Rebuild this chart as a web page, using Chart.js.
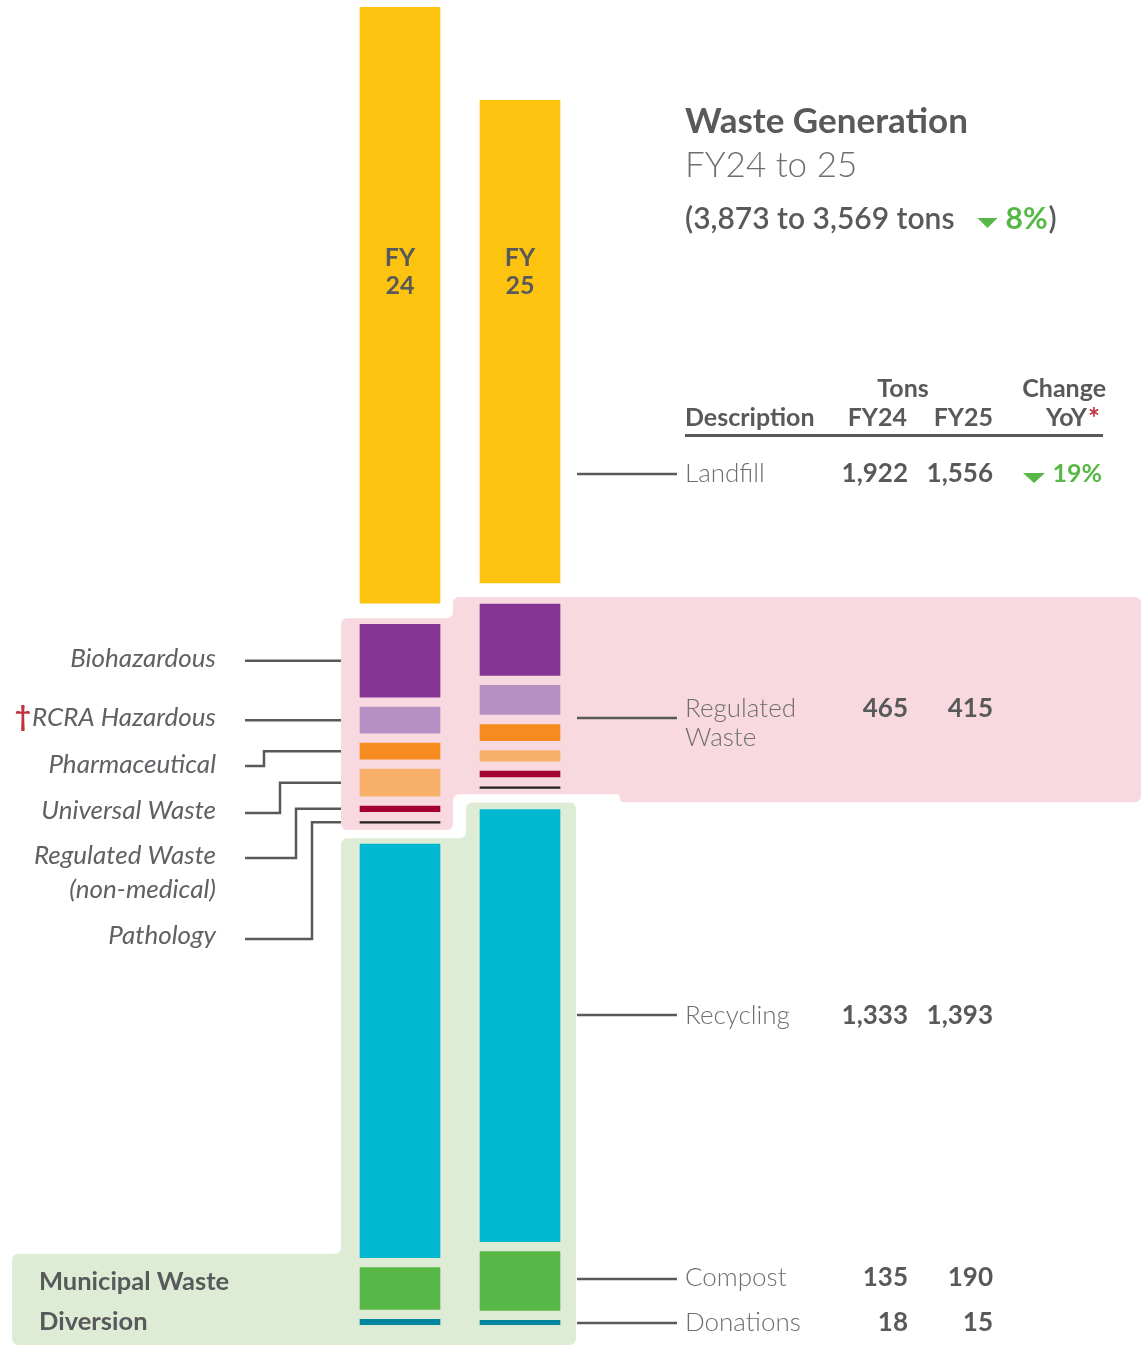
<!DOCTYPE html>
<html><head><meta charset="utf-8">
<script src="https://cdn.jsdelivr.net/npm/chart.js@4"></script>
<style>html,body{margin:0;padding:0;background:#fff;}#wrap{width:1146px;height:1346px;position:relative;}</style>
</head><body><div id="wrap"><canvas id="c" width="1146" height="1346"></canvas></div>
<script>
// ---------- data ----------
const years = ['FY24', 'FY25'];
const landfill = [1922, 1556];
const biohazardous = [235, 230];
const rcraHazardous = [84, 94];
const pharmaceutical = [52, 52];
const universalWaste = [87, 34];
const regulatedNonMedical = [18, 19];
const pathology = [5, 5];
const recycling = [1333, 1393];
const compost = [135, 190];
const donations = [18, 15];
const regulatedTotal = [465, 415];
const totalTons = [3873, 3569];
const landfillChange = '19%';
const totalChange = '8%';

// visual spacing between stacked segments (in value units)
const GAP = 32, GROUP_GAP = 68;

const segments = [
  { key: 'Donations', data: donations, color: '#00869C', gap: GAP },
  { key: 'Compost', data: compost, color: '#57B847', gap: GAP },
  { key: 'Recycling', data: recycling, color: '#00B9D1', gap: GROUP_GAP },
  { key: 'Pathology', data: pathology, color: '#231F20', gap: GAP },
  { key: 'Regulated Waste (non-medical)', data: regulatedNonMedical, color: '#A50034', gap: GAP },
  { key: 'Universal Waste', data: universalWaste, color: '#F9B06B', gap: GAP },
  { key: 'Pharmaceutical', data: pharmaceutical, color: '#F68B1F', gap: GAP },
  { key: 'RCRA Hazardous', data: rcraHazardous, color: '#B790C3', gap: GAP },
  { key: 'Biohazardous', data: biohazardous, color: '#843593', gap: GROUP_GAP },
  { key: 'Landfill', data: landfill, color: '#FEC30F', gap: 0 }
];

const ranges = segments.map(() => []);
let yMax = 0;
years.forEach((y, i) => {
  let base = 0;
  segments.forEach((s, k) => {
    ranges[k][i] = [base, base + s.data[i]];
    base += s.data[i];
    if (k < segments.length - 1) base += s.gap;
  });
  yMax = Math.max(yMax, base);
});

const datasets = segments.map((s, k) => ({
  label: s.key, data: ranges[k], backgroundColor: s.color,
  borderWidth: 0, barThickness: 80, grouped: false
}));

const GRAY = '#58595B', LIGHT = '#6D6E71', GREEN = '#57B847', RED = '#C4323F';
const PINK = '#F9D9E0', MINT = '#DEECD5';

function fmt(v) { return v.toLocaleString('en-US'); }

function roundedPoly(ctx, pts, r, fill) {
  const n = pts.length;
  ctx.beginPath();
  const a = pts[n - 1], b = pts[0];
  ctx.moveTo((a[0] + b[0]) / 2, (a[1] + b[1]) / 2);
  for (let i = 0; i < n; i++) {
    const p = pts[i], q = pts[(i + 1) % n], o = pts[(i - 1 + n) % n];
    const l1 = Math.hypot(p[0] - o[0], p[1] - o[1]);
    const l2 = Math.hypot(q[0] - p[0], q[1] - p[1]);
    const rr = Math.min(r, l1 / 2, l2 / 2);
    ctx.arcTo(p[0], p[1], q[0], q[1], rr);
  }
  ctx.closePath();
  ctx.fillStyle = fill;
  ctx.fill();
}

function seg(chart, key, i) {
  const k = segments.findIndex(s => s.key === key);
  const e = chart.getDatasetMeta(k).data[i];
  const top = Math.min(e.y, e.base), bot = Math.max(e.y, e.base);
  return { top, bot, mid: (top + bot) / 2, left: e.x - e.width / 2, right: e.x + e.width / 2, x: e.x };
}

const decor = {
  id: 'decor',
  beforeDatasetsDraw(chart) {
    const ctx = chart.ctx;
    const W = chart.width, H = chart.height;
    const bio24 = seg(chart, 'Biohazardous', 0), bio25 = seg(chart, 'Biohazardous', 1);
    const pat24 = seg(chart, 'Pathology', 0), pat25 = seg(chart, 'Pathology', 1);
    const rec24 = seg(chart, 'Recycling', 0), rec25 = seg(chart, 'Recycling', 1);
    const L = bio24.left - 19, M = bio25.left - 27, R = W - 5, stepX = bio25.right + 60;
    ctx.save();
    roundedPoly(ctx, [
      [L, bio24.top - 6], [M, bio24.top - 6], [M, bio25.top - 7], [R, bio25.top - 7],
      [R, pat25.bot + 14], [stepX, pat25.bot + 14], [stepX, pat25.bot + 6], [M, pat25.bot + 6],
      [M, pat24.bot + 7], [L, pat24.bot + 7]
    ], 6, PINK);
    const GM = rec25.left - 14, GR = rec25.right + 16;
    roundedPoly(ctx, [
      [L, rec24.top - 6], [GM, rec24.top - 6], [GM, rec25.top - 7], [GR, rec25.top - 7],
      [GR, H - 1], [12, H - 1], [12, rec24.bot - 4], [L, rec24.bot - 4]
    ], 6, MINT);
    ctx.restore();
  },
  afterDatasetsDraw(chart) {
    const ctx = chart.ctx;
    const bio24 = seg(chart, 'Biohazardous', 0);
    const panelLeft = bio24.left - 19;
    ctx.save();
    ctx.textBaseline = 'alphabetic';

    // labels inside landfill bars
    ctx.fillStyle = GRAY; ctx.font = 'bold 25px Lato'; ctx.textAlign = 'center';
    years.forEach((y, i) => {
      const s = seg(chart, 'Landfill', i);
      ctx.fillText(y.slice(0, 2), s.x, 266);
      ctx.fillText(y.slice(2), s.x, 294);
    });

    // left labels and leader lines
    const leftLabels = [
      { key: 'Biohazardous', text: ['Biohazardous'], base: 667 },
      { key: 'RCRA Hazardous', text: ['RCRA Hazardous'], base: 726, dagger: true },
      { key: 'Pharmaceutical', text: ['Pharmaceutical'], base: 773, lineY: 766, elbowX: 264 },
      { key: 'Universal Waste', text: ['Universal Waste'], base: 819, lineY: 813, elbowX: 280 },
      { key: 'Regulated Waste (non-medical)', text: ['Regulated Waste', '(non-medical)'], base: 864, lineY: 858, elbowX: 296 },
      { key: 'Pathology', text: ['Pathology'], base: 944, lineY: 939, elbowX: 312 }
    ];
    ctx.strokeStyle = GRAY; ctx.lineWidth = 2.5; ctx.lineJoin = 'miter'; ctx.lineCap = 'butt';
    leftLabels.forEach(lb => {
      const s = seg(chart, lb.key, 0);
      const sy = s.mid;
      ctx.beginPath();
      if (lb.lineY === undefined) {
        ctx.moveTo(245, sy); ctx.lineTo(panelLeft, sy);
      } else {
        ctx.moveTo(245, lb.lineY); ctx.lineTo(lb.elbowX, lb.lineY);
        ctx.lineTo(lb.elbowX, sy); ctx.lineTo(panelLeft, sy);
      }
      ctx.stroke();
      ctx.font = 'italic 26px Lato'; ctx.fillStyle = '#606165'; ctx.textAlign = 'right';
      lb.text.forEach((t, j) => ctx.fillText(t, 216, lb.base + j * 34));
      if (lb.dagger) {
        const w = ctx.measureText(lb.text[0]).width;
        ctx.font = 'bold 28px Lato'; ctx.fillStyle = RED;
        ctx.fillText('\u2020', 216 - w - 1, lb.base);
      }
    });

    // Municipal waste diversion label
    ctx.font = 'bold 25.5px Lato'; ctx.fillStyle = GRAY; ctx.textAlign = 'left';
    ctx.fillText('Municipal Waste', 39, 1290);
    ctx.fillText('Diversion', 39, 1330);

    // title block
    ctx.textAlign = 'left';
    ctx.font = 'bold 35px Lato'; ctx.fillStyle = GRAY;
    ctx.fillText('Waste Generation', 685, 133);
    ctx.font = '300 35px Lato'; ctx.fillStyle = LIGHT;
    ctx.fillText(years[0] + ' to ' + years[1].slice(2), 685, 177);
    ctx.font = '600 30px Lato'; ctx.fillStyle = GRAY;
    const sub = '(' + fmt(totalTons[0]) + ' to ' + fmt(totalTons[1]) + ' tons';
    ctx.fillText(sub, 685, 229);
    const tx = 685 + ctx.measureText(sub).width + 23;
    ctx.fillStyle = GREEN;
    ctx.beginPath(); ctx.moveTo(tx, 218); ctx.lineTo(tx + 20, 218); ctx.lineTo(tx + 10, 228); ctx.closePath(); ctx.fill();
    ctx.font = 'bold 30px Lato';
    ctx.fillText(totalChange, tx + 28, 229);
    const pw = ctx.measureText(totalChange).width;
    ctx.font = '600 30px Lato'; ctx.fillStyle = GRAY;
    ctx.fillText(')', tx + 28 + pw + 1, 229);

    // table header
    ctx.font = 'bold 25px Lato'; ctx.fillStyle = GRAY;
    ctx.textAlign = 'center'; ctx.fillText('Tons', 903, 397);
    ctx.textAlign = 'right'; ctx.fillText('Change', 1106, 397);
    ctx.textAlign = 'left'; ctx.fillText('Description', 685, 426);
    ctx.textAlign = 'right';
    ctx.fillText(years[0], 907, 426);
    ctx.fillText(years[1], 993, 426);
    ctx.fillText('YoY', 1087, 426);
    ctx.fillStyle = RED; ctx.font = 'bold 28px Lato'; ctx.textAlign = 'left';
    ctx.fillText('*', 1088, 428);
    ctx.fillStyle = GRAY; ctx.fillRect(685, 434, 418, 3);

    // table rows
    const rows = [
      { text: ['Landfill'], base: 482, lineY: 474, v: landfill, change: landfillChange },
      { text: ['Regulated', 'Waste'], base: 717, lineY: 718, v: regulatedTotal },
      { text: ['Recycling'], base: 1024, lineY: 1015, v: recycling },
      { text: ['Compost'], base: 1286, lineY: 1279, v: compost },
      { text: ['Donations'], base: 1331, lineY: 1323, v: donations }
    ];
    rows.forEach(r => {
      ctx.strokeStyle = GRAY; ctx.lineWidth = 2.5;
      ctx.beginPath(); ctx.moveTo(577, r.lineY); ctx.lineTo(677, r.lineY); ctx.stroke();
      ctx.font = '300 26px Lato'; ctx.fillStyle = LIGHT; ctx.textAlign = 'left';
      r.text.forEach((t, j) => ctx.fillText(t, 685, r.base + j * 29));
      ctx.font = 'bold 26px Lato'; ctx.fillStyle = GRAY; ctx.textAlign = 'right';
      ctx.fillText(fmt(r.v[0]), 908, r.base);
      ctx.fillText(fmt(r.v[1]), 993, r.base);
      if (r.change) {
        ctx.fillStyle = GREEN;
        ctx.beginPath(); ctx.moveTo(1023, r.base - 9); ctx.lineTo(1045, r.base - 9); ctx.lineTo(1034, r.base + 1); ctx.closePath(); ctx.fill();
        ctx.font = 'bold 25px Lato';
        ctx.fillText(r.change, 1102, r.base);
      }
    });
    ctx.restore();
  }
};

new Chart(document.getElementById('c'), {
  type: 'bar',
  data: { labels: years, datasets },
  options: {
    responsive: false, animation: false, devicePixelRatio: 1,
    layout: { padding: { left: 340, right: 566, top: 7, bottom: 21 } },
    plugins: { legend: { display: false }, tooltip: { enabled: false }, title: { display: false } },
    scales: {
      x: { display: false, grid: { display: false } },
      y: { display: false, min: 0, max: yMax, grid: { display: false } }
    }
  },
  plugins: [decor]
});
</script>
</body></html>
